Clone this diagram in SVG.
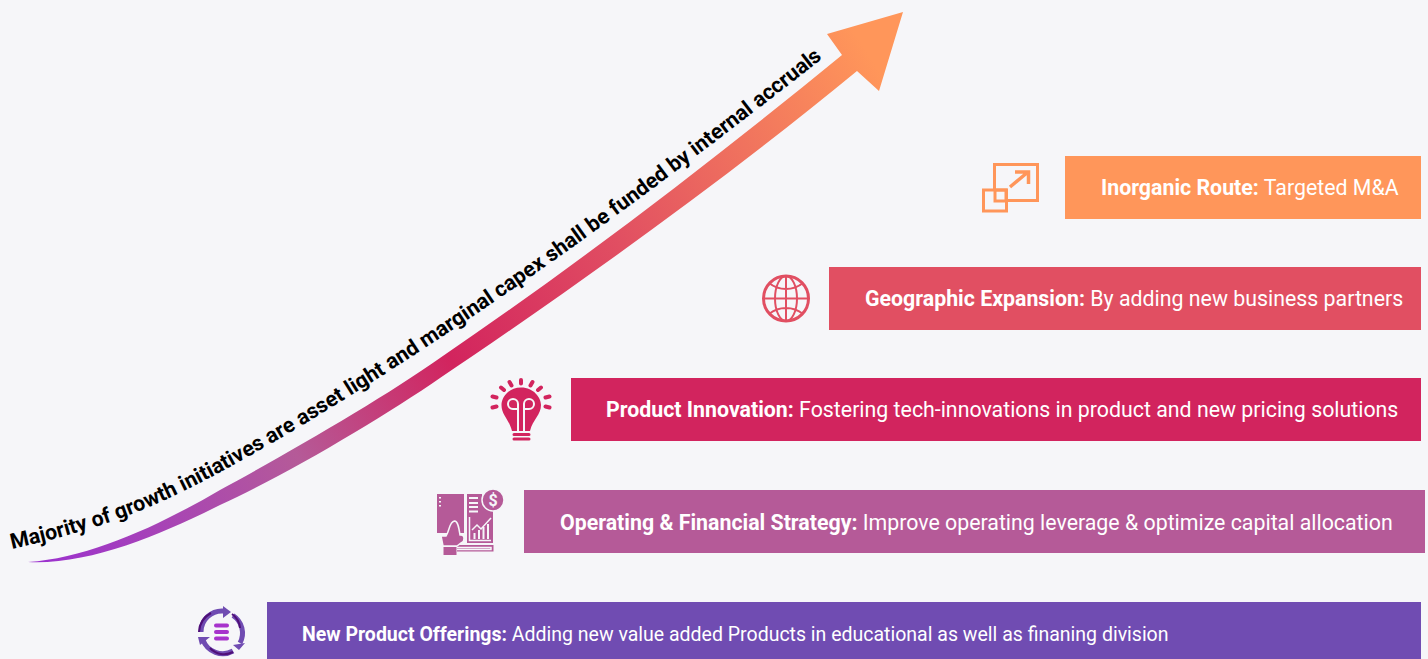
<svg xmlns="http://www.w3.org/2000/svg" width="1428" height="659" viewBox="0 0 1428 659">
<style>
.l{font-family:Roboto,"Liberation Sans",sans-serif;font-size:21.33px;fill:#fff}
.b{font-weight:700}
.c{font-family:Roboto,"Noto Sans",sans-serif;font-size:21.33px;font-weight:700;fill:#000}
</style>
<defs>
<linearGradient id="g" gradientUnits="userSpaceOnUse" x1="28" y1="562" x2="903" y2="12">
<stop offset="0" stop-color="#9B30D0"/>
<stop offset="0.275" stop-color="#B55A98"/>
<stop offset="0.45" stop-color="#D2245E"/>
<stop offset="0.65" stop-color="#E14F62"/>
<stop offset="0.95" stop-color="#FF965A"/>
</linearGradient>
<path id="cp" d="M12 549C70 536 125 520 180 493C270 449 400 366 500 298C610 223 730 131 818 62L840 44"/>
</defs>
<rect width="1428" height="659" fill="#F6F6F9"/>
<g id="connectors">
<path id="growth-arrow" fill="url(#g)" d="M28 562C90 558 160 525 220 490C290 452 385 397 440 358C575 266 710 163 842 55L827 34L903 12L879 91L857 71C725 180 575 287 440 378C385 416 290 473 220 505C160 535 90 565 28 562Z"/>
</g>
<text class="c"><textPath href="#cp">Majority of growth initiatives are asset light and marginal capex shall be funded by internal accruals</textPath></text>
<g id="inorganic">
<rect x="1065" y="156" width="356" height="63" fill="#FF965A"/>
<text class="l" x="1101" y="195"><tspan class="b">Inorganic Route:</tspan> Targeted M&amp;A</text>
<g fill="none" stroke="#FF965A" stroke-width="3">
<path d="M994.500 189V164.500H1037.500V200.500H1008"/>
<rect x="983.500" y="190" width="23" height="21"/>
<rect x="995" y="190" width="11" height="11"/>
<path d="M1010 187L1028 172M1015 172H1028.500V184" stroke-width="3.500"/>
</g>
</g>
<g id="geographic">
<rect x="829" y="267" width="592" height="63" fill="#E14F62"/>
<text class="l" x="865" y="306"><tspan class="b">Geographic Expansion:</tspan> By adding new business partners</text>
<g fill="none" stroke="#E14F62">
<circle cx="786" cy="298.500" r="22.500" stroke-width="3"/>
<g stroke-width="2">
<ellipse cx="786" cy="298.500" rx="11" ry="22.500"/>
<path d="M786 276V321M764 298.500H808M769 283C779 291 793 291 803 283M769 314C779 306 793 306 803 314"/>
</g>
</g>
</g>
<g id="product">
<rect x="571" y="378" width="850" height="63" fill="#D2245E"/>
<text class="l" x="606" y="417"><tspan class="b">Product Innovation:</tspan> Fostering tech-innovations in product and new pricing solutions</text>
<path fill="#D2245E" d="M521 387.500C508 387.500 501.500 398 501.500 405C501.500 415 509 419 512 431H530C533 419 541 415 541 405C541 398 534 387.500 521 387.500Z"/>
<g fill="none" stroke="#D2245E" stroke-width="4" stroke-linecap="round">
<path d="M514 434.500H529M514 439H529" stroke-width="3"/>
<path d="M521 380V383.500M509.500 382L511.500 385.500M501 387.500L504 390M492.500 396.500L496.500 397.500M492.500 407.500L496.500 406.500M532.500 382L530.500 385.500M541 387.500L538 390M549.500 396.500L545.500 397.500M549.500 407.500L545.500 406.500"/>
</g>
<g fill="none" stroke="#F6F6F9" stroke-width="2">
<path d="M518 431V409H513A5 5 0 1 1 518 404V409M524 431V409H529A5 5 0 1 0 524 404V409"/>
</g>
</g>
<g id="operating">
<rect x="524" y="490" width="901" height="63" fill="#B55A98"/>
<text class="l" x="560" y="530"><tspan class="b">Operating &amp; Financial Strategy:</tspan> Improve operating leverage &amp; optimize capital allocation</text>
<g fill="#B55A98">
<path d="M437 494H464V533H437Z"/>
<path d="M467 494H482C483 503 487 509 493 510V543H467Z"/>
<path d="M457 545H493.500V551.500H457Z"/>
<circle cx="493" cy="500" r="11" stroke="#F6F6F9" stroke-width="1.500"/>
</g>
<path d="M441 536H446C450 530 449 522 454.500 521C458 521 459 528 460 535H461C465 535 465 542 461 543L457 546H443Z" fill="#B55A98" stroke="#F6F6F9" stroke-width="1.500"/>
<rect x="443.500" y="547" width="13" height="8" fill="#B55A98"/>
<g fill="none" stroke="#F6F6F9">
<path d="M457 547.500H491V549.500H457" stroke-width="1.500"/>
<path d="M469 498H478M469 503H478M469 507H478M469 511.500H478" stroke-width="2"/>
<path d="M469.500 517V540.500H491M472 530L477 525L481 529L491 518" stroke-width="1.500"/>
<path d="M474.500 539V533M479 539V530M483.500 539V527M488 539V524" stroke-width="2"/>
<path d="M440 497V498.500M440 501V502.500M440 505V506.500" stroke-width="2"/>
</g>
<text x="493" y="506" font-family="Roboto,sans-serif" font-size="16" font-weight="700" fill="#F6F6F9" text-anchor="middle">$</text>
</g>
<g id="new-product">
<rect x="267" y="602" width="1154" height="57" fill="#704CB2"/>
<text class="l" x="302" y="641" style="font-size:19.500px"><tspan class="b">New Product Offerings:</tspan> Adding new value added Products in educational as well as finaning division</text>
<g fill="none" stroke-width="5">
<path d="M201 632A21 21 0 0 1 224 611" stroke="#704CB2"/>
<path d="M233 615.500A21 21 0 0 1 240 643" stroke="#704CB2"/>
<path d="M233 651A21 21 0 0 1 203 640" stroke="#704CB2"/>
</g>
<g fill="none" stroke="#4F0F78" stroke-width="2">
<path d="M199 632A23 23 0 0 1 211 613"/>
<path d="M232 614A19 19 0 0 1 240 628"/>
<path d="M210 648A19 19 0 0 0 233 652"/>
</g>
<path fill="#704CB2" d="M223 606L231 612L223 618ZM233 645L245 643L239 650ZM198 637L210 637L200 645Z"/>
<g stroke="#A733CC" stroke-width="4" stroke-linecap="round"><path d="M216 625.500H227M216 632H227M216 638.500H227"/></g>
</g>
</svg>
